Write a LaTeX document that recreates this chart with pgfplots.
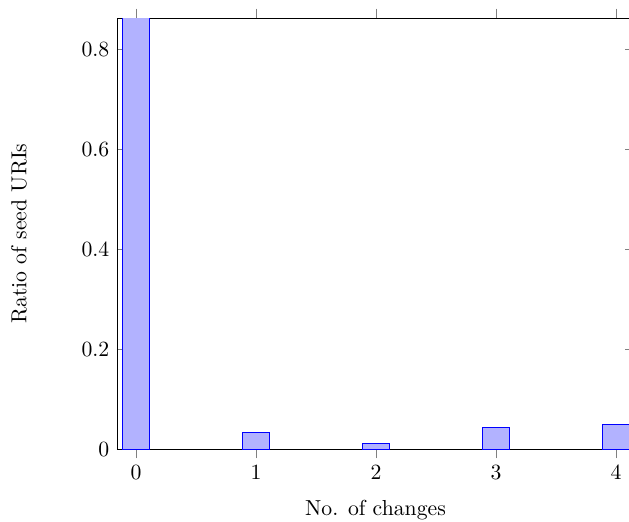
\documentclass[border=0pt]{standalone}
\usepackage{pgfplots}
\pgfplotsset{compat=1.18}
\begin{document}
\begin{tikzpicture}
\begin{axis}[
  name=ax,
  scale only axis,
  width=238.2pt, height=198.6pt,
  ybar,
  bar width=12.3pt,
  xmin=-0.158, xmax=4.15,
  ymin=0, ymax=0.862,
  xtick={0,1,2,3,4},
  ytick={0,0.2,0.4,0.6,0.8},
  xtick align=outside,
  xlabel={No. of changes},
  ylabel={Ratio of seed URIs},
  ylabel shift=18.4pt,
  xlabel shift=2.3pt,
]
\addplot coordinates {(0,0.863) (1,0.0333) (2,0.0113) (3,0.0427) (4,0.049)};
\end{axis}
\pgfresetboundingbox
\path[use as bounding box] ([xshift=-53.9pt,yshift=-33.2pt]ax.south west) rectangle ([xshift=-2.3pt,yshift=8.3pt]ax.north east);
\end{tikzpicture}
\end{document}
